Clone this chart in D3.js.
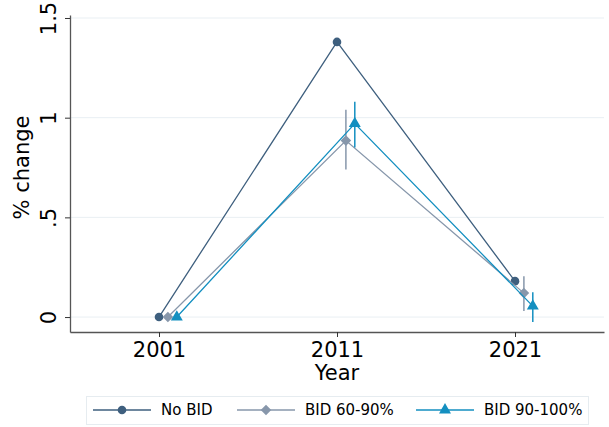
<!DOCTYPE html>
<html>
<head>
<meta charset="utf-8">
<script src="https://cdn.jsdelivr.net/npm/d3@7"></script>
<style>
  body { margin: 0; background: #fff; }
  text { font-family: "DejaVu Sans", sans-serif; }
</style>
</head>
<body>
<svg id="chart" width="609" height="427"></svg>
<script>
const years = [2001, 2011, 2021];
const yTicks = [0, 0.5, 1, 1.5];
const yTickLabels = ['0', '.5', '1', '1.5'];

const noBid = [0, 1.38, 0.18];
const bid6090 = [0, 0.885, 0.12];
const bid6090Lo = [null, 0.74, 0.03];
const bid6090Hi = [null, 1.04, 0.205];
const bid90100 = [0, 0.97, 0.055];
const bid90100Lo = [null, 0.85, -0.025];
const bid90100Hi = [null, 1.08, 0.125];

const seriesNames = ['No BID', 'BID 60-90%', 'BID 90-100%'];

const svg = d3.select('#chart');
const margin = {top: 15, right: 5, bottom: 95, left: 70};
const width = 609 - margin.left - margin.right,
  height = 427 - margin.top - margin.bottom;

const x = d3.scaleLinear().domain([1996, 2026]).range([margin.left, margin.left + width]);
const y = d3.scaleLinear().domain([-0.075, 1.515]).range([margin.top + height, margin.top]);

const colors = ['#3e5f7e', '#8797ab', '#138fc0'];
const fontSize = 21;

// gridlines
svg.append('g').selectAll('line')
  .data(yTicks)
  .enter().append('line')
  .attr('x1', margin.left).attr('x2', margin.left + width)
  .attr('y1', d => y(d)).attr('y2', d => y(d))
  .attr('stroke', '#e9eff3').attr('stroke-width', 1);

// axes
const yAxis = svg.append('g')
  .attr('transform', `translate(${margin.left},0)`)
  .call(d3.axisLeft(y).tickValues(yTicks).tickFormat((d, i) => yTickLabels[i]).tickSize(5).tickSizeOuter(0));
yAxis.select('.domain').attr('stroke', '#555').attr('stroke-width', 1.3);
yAxis.selectAll('.tick line').attr('stroke', '#333');
yAxis.selectAll('.tick text')
  .attr('font-size', fontSize).attr('fill', '#000')
  .attr('font-family', '"DejaVu Sans", sans-serif')
  .attr('transform', 'rotate(-90)')
  .attr('x', 0).attr('y', -14)
  .attr('dy', 0)
  .attr('text-anchor', 'middle');

const xAxis = svg.append('g')
  .attr('transform', `translate(0,${margin.top + height})`)
  .call(d3.axisBottom(x).tickValues(years).tickFormat(d3.format('d')).tickSize(5).tickSizeOuter(0));
xAxis.select('.domain').attr('stroke', '#555').attr('stroke-width', 1.3);
xAxis.selectAll('.tick line').attr('stroke', '#333');
xAxis.selectAll('.tick text')
  .attr('font-size', fontSize).attr('fill', '#000')
  .attr('font-family', '"DejaVu Sans", sans-serif')
  .attr('dy', '0.81em');

svg.append('text')
  .attr('x', x(2011)).attr('y', 380)
  .attr('text-anchor', 'middle').attr('font-size', fontSize)
  .text('Year');

svg.append('text')
  .attr('transform', `translate(29,${y(0.75)}) rotate(-90)`)
  .attr('text-anchor', 'middle').attr('font-size', fontSize)
  .text('% change');

const series = [
  {vals: noBid, off: 0, lo: null, hi: null, shape: d3.symbolCircle, size: 58, rot: 0},
  {vals: bid6090, off: 0.5, lo: bid6090Lo, hi: bid6090Hi, shape: d3.symbolSquare, size: 56, rot: 45},
  {vals: bid90100, off: 1.0, lo: bid90100Lo, hi: bid90100Hi, shape: d3.symbolTriangle, size: 62, rot: 0}
];

const line = d3.line().x(d => x(d[0])).y(d => y(d[1]));

series.forEach((s, k) => {
  const pts = years.map((yr, i) => [yr + s.off, s.vals[i]]);
  if (s.lo) {
    svg.append('g').selectAll('line')
      .data(years.map((yr, i) => i).filter(i => s.lo[i] !== null))
      .enter().append('line')
      .attr('x1', i => x(years[i] + s.off)).attr('x2', i => x(years[i] + s.off))
      .attr('y1', i => y(s.lo[i])).attr('y2', i => y(s.hi[i]))
      .attr('stroke', colors[k]).attr('stroke-width', 1.5);
  }
  svg.append('path')
    .attr('d', line(pts))
    .attr('fill', 'none').attr('stroke', colors[k]).attr('stroke-width', 1.3);
  svg.append('g').selectAll('path')
    .data(pts)
    .enter().append('path')
    .attr('d', d3.symbol().type(s.shape).size(s.size))
    .attr('transform', d => `translate(${x(d[0])},${y(d[1])}) rotate(${s.rot})`)
    .attr('fill', colors[k]);
});

// legend
const legend = svg.append('g');
legend.append('rect')
  .attr('x', 86.5).attr('y', 396.5).attr('width', 502).attr('height', 28)
  .attr('fill', '#fff').attr('stroke', '#e6ecf0');
const legendX = [93, 237, 416];
series.forEach((s, k) => {
  const g = legend.append('g').attr('transform', `translate(${legendX[k]},410)`);
  g.append('line').attr('x1', 0).attr('x2', 58).attr('y1', 0).attr('y2', 0)
    .attr('stroke', colors[k]).attr('stroke-width', 1.3);
  g.append('path')
    .attr('d', d3.symbol().type(s.shape).size(s.size))
    .attr('transform', `translate(29,0) rotate(${s.rot})`)
    .attr('fill', colors[k]);
  g.append('text')
    .attr('x', 68).attr('y', 0).attr('dy', '0.36em')
    .attr('font-size', 15)
    .text(seriesNames[k]);
});
</script>
</body>
</html>
